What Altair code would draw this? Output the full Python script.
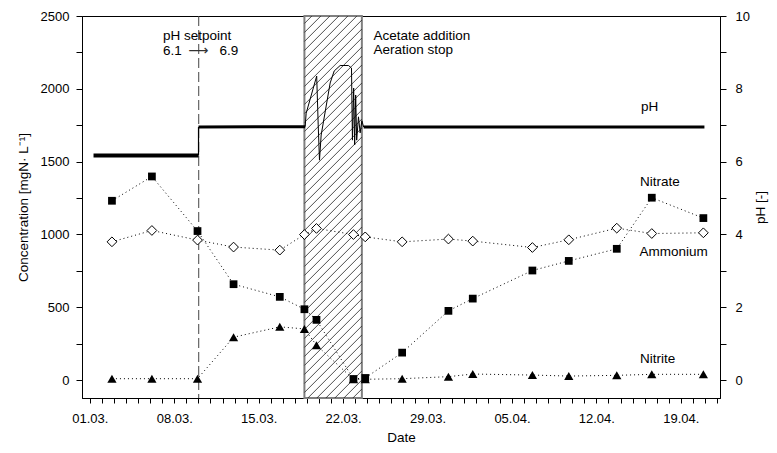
import altair as alt
import pandas as pd

# ---------------- data ----------------
sample_times = [
    "2015-03-02T20:00:00", "2015-03-06T03:30:00", "2015-03-09T22:15:00",
    "2015-03-12T22:00:00", "2015-03-16T18:00:00", "2015-03-18T19:00:00",
    "2015-03-19T19:00:00", "2015-03-22T20:35:00", "2015-03-23T20:00:00",
    "2015-03-26T21:30:00", "2015-03-30T17:35:00", "2015-04-01T18:00:00",
    "2015-04-06T16:40:00", "2015-04-09T17:05:00", "2015-04-13T16:35:00",
    "2015-04-16T14:15:00", "2015-04-20T20:55:00",
]
nitrate = [1231, 1398, 1023, 658, 571, 486, 413, 7, 14, 188, 475, 559, 752, 818, 901, 1252, 1112]
ammonium = [949, 1027, 961, 913, 892, 999, 1041, 999, 983, 949, 968, 954, 910, 963, 1043, 1006, 1011]
nitrite = [9, 9, 9, 294, 365, 351, 239, 5, 5, 9, 23, 41, 34, 27, 32, 39, 39]

ph_times = [
    "2015-03-01T07:20:00", "2015-03-10T00:15:00",
    "2015-03-10T00:15:00", "2015-03-10T00:15:00",
    "2015-03-10T00:15:00", "2015-03-18T20:30:00",
    "2015-03-18T20:30:00", "2015-03-18T22:30:00", "2015-03-19T19:25:00",
    "2015-03-19T21:25:00", "2015-03-19T22:25:00", "2015-03-20T01:00:00",
    "2015-03-20T04:20:00", "2015-03-20T22:15:00", "2015-03-21T06:15:00",
    "2015-03-21T18:10:00", "2015-03-22T10:40:00", "2015-03-22T16:40:00",
    "2015-03-22T18:35:00", "2015-03-22T21:00:00", "2015-03-22T23:00:00",
    "2015-03-23T01:00:00", "2015-03-23T03:00:00", "2015-03-23T06:35:00",
    "2015-03-23T09:55:00", "2015-03-23T13:20:00", "2015-03-23T16:55:00",
    "2015-03-23T16:55:00", "2015-04-20T23:00:00",
]
ph_values = [
    6.17, 6.17,
    6.17, 6.95,
    6.95, 6.96,
    6.96, 7.33, 8.35,
    7.47, 7.01, 6.04,
    6.73, 8.16, 8.49,
    8.64, 8.64, 8.57,
    6.59, 8.02, 6.46,
    7.83, 6.59, 7.23,
    6.79, 7.12, 6.95,
    6.95, 6.95,
]
ph_parts = (["flat1"] * 2 + ["step"] * 2 + ["flat2"] * 2 + ["acetate"] * 21 + ["flat3"] * 2)

setpoint_time = "2015-03-10T00:40:00"
acetate_start = "2015-03-18T19:00:00"
acetate_end = "2015-03-23T13:20:00"

label_texts = ["pH setpoint", "6.1", "6.9", "Acetate addition", "Aeration stop",
               "pH", "Nitrate", "Ammonium", "Nitrite"]
label_times = ["2015-03-07T01:25:00", "2015-03-07T01:25:00", "2015-03-11T18:00:00",
               "2015-03-24T12:25:00", "2015-03-24T12:25:00", "2015-04-15T17:00:00",
               "2015-04-15T15:00:00", "2015-04-15T13:40:00", "2015-04-15T15:00:00"]
label_values = [2335, 2229, 2229, 2335, 2236, 1848, 1332, 852, 115]
arrow_time = "2015-03-09T23:45:00"
arrow_value = 2262

# ---------------- layout ----------------
W, H = 638, 382
x_start = pd.Timestamp("2015-02-28T08:24:00")
x_end = pd.Timestamp("2015-04-22T06:00:00")
y_lo, y_hi = -123.6, 2500
ph_lo, ph_hi = -0.494, 10

FONT = "Liberation Sans"

x_scale = alt.Scale(domain=[alt.DateTime(year=2015, month=2, date=28, hours=8, minutes=24),
                            alt.DateTime(year=2015, month=4, date=22, hours=6)])
y_scale = alt.Scale(domain=[y_lo, y_hi], nice=False, zero=False)

day_ticks = [alt.DateTime(year=d.year, month=d.month, date=d.day)
             for d in pd.date_range("2015-03-01", "2015-04-22", freq="D")]

x_axis = alt.Axis(
    title="Date", values=day_ticks, tickSize=5, labelPadding=9, titlePadding=5,
    labelExpr="round((datum.value - datetime(2015, 2, 1)) / 86400000) % 7 == 0 ? timeFormat(datum.value, '%d.%m.') : ''",
    labelFlush=False, labelOverlap=False,
)
y_axis = alt.Axis(
    title="Concentration [mgN· L⁻¹]", values=list(range(0, 2501, 250)), tickSize=6,
    labelPadding=7, titlePadding=10,
    labelExpr="datum.value % 500 == 0 ? datum.value : ''",
)
ph_axis = alt.Axis(
    title="pH [-]", orient="right", values=list(range(0, 11)), tickSize=6,
    labelPadding=9, titlePadding=18, titleAngle=270,
    labelExpr="datum.value % 2 == 0 ? datum.value : ''",
)

X = lambda f: alt.X(f, type="temporal", scale=x_scale, axis=x_axis)
Y = lambda f: alt.Y(f, type="quantitative", scale=y_scale, axis=y_axis)

# concentration table
conc = pd.DataFrame({
    "time": sample_times * 3,
    "value": nitrate + ammonium + nitrite,
    "series": ["Nitrate"] * len(nitrate) + ["Ammonium"] * len(ammonium) + ["Nitrite"] * len(nitrite),
})

# acetate period rectangle and its hatching
region = pd.DataFrame({"t0": [acetate_start], "t1": [acetate_end]})
px_per_day = W / ((x_end - x_start) / pd.Timedelta(days=1))
px_per_unit = H / (y_hi - y_lo)
rect_w_px = (pd.Timestamp(acetate_end) - pd.Timestamp(acetate_start)) / pd.Timedelta(days=1) * px_per_day
dy = rect_w_px / px_per_unit
step = 9 / px_per_unit
hatch_rows = []
y0 = y_lo - dy
while y0 < y_hi:
    hatch_rows.append({"t0": acetate_start, "t1": acetate_end, "y0": y0, "y1": y0 + dy})
    y0 += step
hatch = pd.DataFrame(hatch_rows)

hatch_layer = alt.Chart(hatch).mark_rule(color="#222", strokeWidth=0.8, clip=True).encode(
    x=X("t0"), x2="t1", y=Y("y0"), y2="y1")
rect_layer = alt.Chart(region).mark_rect(fill=None, stroke="#808080", strokeWidth=2).encode(
    x=X("t0"), x2="t1", y=alt.value(0), y2=alt.value(H))
setpoint_layer = alt.Chart(pd.DataFrame({"t": [setpoint_time]})).mark_rule(
    color="#444", strokeWidth=1, strokeDash=[10, 4]).encode(x=X("t"), y=alt.value(0), y2=alt.value(H))

lines = alt.Chart(conc).mark_line(color="black", strokeWidth=1, strokeDash=[1, 3]).encode(
    x=X("time"), y=Y("value"), detail="series:N")

nitrite_pts = alt.Chart(conc[conc.series == "Nitrite"]).mark_point(
    shape="triangle-up", filled=True, color="black", size=85, opacity=1).encode(x=X("time"), y=Y("value"))
ammonium_pts = alt.Chart(conc[conc.series == "Ammonium"]).mark_point(
    shape="diamond", filled=True, fill="white", stroke="black", strokeWidth=1, size=95, opacity=1).encode(
    x=X("time"), y=Y("value"))
nitrate_pts = alt.Chart(conc[conc.series == "Nitrate"]).mark_point(
    shape="square", filled=True, color="black", size=60, opacity=1).encode(x=X("time"), y=Y("value"))

labels = pd.DataFrame({"text": label_texts, "time": label_times, "value": label_values})
text_layer = alt.Chart(labels).mark_text(
    align="left", baseline="alphabetic", font=FONT, fontSize=13.5, color="black").encode(
    x=X("time"), y=Y("value"), text="text:N")
arrow_layer = alt.Chart(pd.DataFrame({"time": [arrow_time], "value": [arrow_value], "text": ["⟶"]})).mark_text(
    align="center", baseline="middle", font="DejaVu Sans", fontSize=14, color="#333").encode(
    x=X("time"), y=Y("value"), text="text:N")

left = alt.layer(rect_layer, hatch_layer, setpoint_layer, lines, nitrite_pts, ammonium_pts,
                 nitrate_pts, text_layer, arrow_layer)

ph_df = pd.DataFrame({"time": ph_times, "ph": ph_values, "part": ph_parts,
                      "idx": list(range(len(ph_times)))})
ph_y = alt.Y("ph:Q", scale=alt.Scale(domain=[ph_lo, ph_hi], nice=False, zero=False), axis=ph_axis)
part_widths = [("flat1", 4), ("step", 1.2), ("flat2", 3), ("acetate", 1), ("flat3", 3)]
ph_layers = [
    alt.Chart(ph_df).transform_filter(alt.datum.part == name).mark_line(
        color="black", strokeWidth=w).encode(x=X("time"), y=ph_y, order="idx:Q")
    for name, w in part_widths
]
ph_layer = alt.layer(*ph_layers)

chart = alt.layer(left, ph_layer).resolve_scale(y="independent").properties(
    width=W, height=H,
    autosize=alt.AutoSizeParams(type="none"),
    padding={"left": 74, "top": 8, "right": 49, "bottom": 47},
).configure_view(stroke="black", strokeWidth=1).configure_axis(
    labelFont=FONT, labelFontSize=13, titleFont=FONT, titleFontSize=13.5, titleFontWeight="normal",
    domainColor="black", tickColor="black", labelColor="black", titleColor="black", grid=False,
)

chart.save("out.html", embed_options={"renderer": "svg", "actions": False})
